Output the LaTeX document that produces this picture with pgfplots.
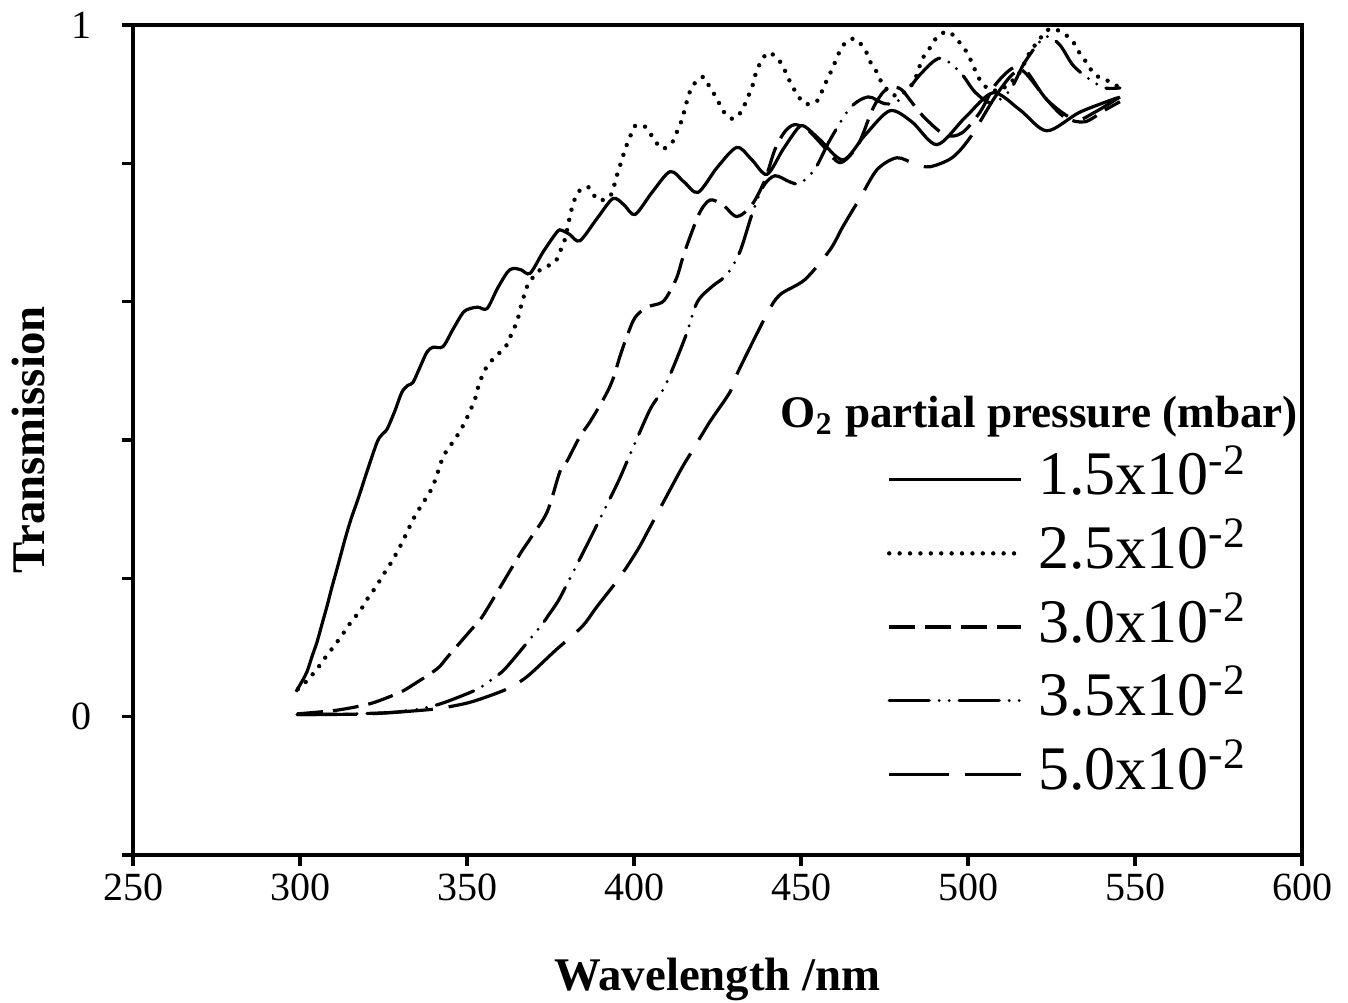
\documentclass[border=0pt]{standalone}
\usepackage{fontspec}
\setmainfont{Liberation Serif}
\usepackage{pgfplots}
\pgfplotsset{compat=1.18}
\begin{document}
\begin{tikzpicture}
\begin{axis}[
  name=ax,
  scale only axis, width=292.25pt, height=207.5pt,
  xmin=250, xmax=600, ymin=-0.2, ymax=1,
  xtick={250,300,...,600},
  ytick={-0.2,0,0.2,0.4,0.6,0.8,1},
  yticklabels={{},0,{},{},{},{},1},
  xtick pos=bottom, ytick pos=left,
  tick align=outside,
  major tick length=2.75pt,
  axis line style={line width=0.8pt},
  every tick/.style={black, line width=0.8pt},
  /pgf/number format/assume math mode=true,
  ticklabel style={font=\fontsize{10}{12}\selectfont},
  xticklabel style={yshift=1.5pt},
  yticklabel style={xshift=-4pt},
  xlabel={\textbf{Wavelength /nm}},
  ylabel={\textbf{Transmission}},
  xlabel style={font=\fontsize{11.7}{14}\selectfont, at={(axis description cs:0.5,-0.1627)}, anchor=base},
  ylabel style={font=\fontsize{11.7}{14}\selectfont, at={(axis description cs:-0.0753,0.5)}, anchor=base},
  clip=false,
  every axis plot/.append style={black, line width=0.8pt},
  legend style={at={(0.645,0.4964)}, anchor=north west, draw=none, fill=none,
    inner sep=0pt, outer sep=0pt, row sep=0pt, column sep=3.75pt,
    font=\fontsize{15.5}{18}\selectfont,
    nodes={inner sep=0pt, text height=13pt, text depth=5.4pt}},
  legend cell align=left,
  legend image code/.code={\draw[#1] (0pt,0pt) -- (33pt,0pt);},
]
% 1.5e-2 solid
\addplot[smooth, solid] coordinates {
(298.8,0.036)(300.6,0.051)(302.1,0.065)(303.6,0.087)(305.1,0.108)(306.6,0.134)(308.1,0.160)(309.6,0.188)(311.1,0.214)(313.5,0.257)(315.3,0.286)(317.4,0.315)(320.1,0.355)(323.1,0.397)(324.6,0.408)(326.1,0.416)(328.4,0.442)(330.5,0.469)(332.3,0.479)(333.8,0.483)(335.9,0.505)(338.0,0.527)(339.8,0.534)(342.8,0.535)(345.8,0.560)(348.8,0.584)(350.9,0.590)(353.3,0.592)(356.0,0.590)(359.0,0.618)(362.0,0.642)(363.8,0.648)(366.2,0.646)(368.9,0.641)(372.8,0.672)(377.0,0.701)(378.4,0.703)(380.8,0.697)(383.8,0.688)(388.9,0.720)(393.7,0.749)(397.0,0.740)(400.3,0.726)(405.4,0.758)(410.8,0.788)(415.0,0.773)(419.2,0.758)(424.9,0.794)(430.8,0.823)(435.3,0.805)(439.8,0.784)(444.6,0.820)(449.1,0.851)(451.2,0.853)(455.7,0.834)(462.6,0.805)(469.2,0.841)(476.6,0.876)(483.2,0.860)(490.7,0.827)(499.1,0.866)(507.5,0.902)(515.6,0.877)(523.6,0.847)(533.5,0.874)(544.9,0.895)
};
\addlegendentry{1.5x10\textsuperscript{-2}}
% 2.5e-2 dotted
\addplot[smooth, line width=1.1pt, line cap=round, dash pattern=on 0pt off 2.6pt] coordinates {
(299.4,0.040)(302.1,0.052)(305.1,0.069)(307.8,0.087)(310.2,0.102)(312.9,0.120)(315.3,0.137)(318.0,0.153)(320.4,0.172)(322.8,0.188)(324.9,0.205)(327.2,0.222)(329.3,0.240)(331.1,0.257)(334.4,0.290)(338.9,0.325)(340.4,0.341)(342.8,0.375)(344.9,0.391)(347.3,0.408)(349.4,0.426)(350.9,0.442)(352.4,0.459)(353.3,0.476)(354.5,0.492)(356.3,0.509)(359.3,0.524)(362.0,0.538)(363.5,0.556)(365.0,0.571)(365.9,0.589)(368.0,0.622)(370.4,0.639)(372.5,0.648)(376.3,0.657)(377.8,0.672)(379.3,0.690)(380.8,0.723)(381.7,0.740)(383.2,0.758)(386.2,0.766)(389.2,0.747)(392.8,0.752)(394.3,0.772)(395.2,0.788)(396.4,0.805)(397.3,0.820)(398.8,0.838)(400.3,0.854)(403.3,0.853)(405.7,0.837)(408.4,0.821)(411.4,0.830)(412.9,0.846)(414.4,0.864)(416.2,0.896)(417.7,0.913)(420.7,0.925)(422.8,0.909)(424.9,0.893)(426.6,0.876)(429.6,0.864)(432.3,0.876)(433.8,0.893)(435.3,0.909)(436.2,0.926)(437.7,0.944)(440.1,0.960)(443.1,0.951)(445.2,0.934)(446.7,0.918)(448.8,0.900)(451.2,0.886)(454.8,0.890)(456.6,0.908)(458.1,0.924)(459.6,0.939)(461.1,0.957)(463.2,0.974)(466.2,0.980)(469.2,0.964)(470.7,0.947)(472.8,0.931)(474.6,0.913)(478.1,0.898)(481.1,0.903)(483.5,0.916)(485.0,0.932)(486.2,0.950)(488.6,0.967)(491.0,0.984)(494.3,0.990)(497.6,0.974)(499.7,0.960)(501.5,0.942)(503.0,0.925)(505.7,0.909)(509.6,0.906)(515.0,0.928)(518.6,0.961)(524.0,0.993)(527.5,0.991)(531.1,0.978)(533.2,0.961)(535.6,0.945)(538.0,0.928)(542.5,0.918)(545.5,0.909)
};
\addlegendentry{2.5x10\textsuperscript{-2}}
% 3.0e-2 dashed
\addplot[smooth, dash pattern=on 6.5pt off 2.5pt] coordinates {
(299.1,0.004)(310.5,0.009)(318.6,0.016)(323.1,0.022)(329.9,0.035)(333.5,0.045)(341.0,0.069)(344.3,0.087)(351.5,0.127)(354.5,0.144)(359.3,0.182)(361.4,0.199)(366.5,0.240)(368.9,0.257)(374.0,0.296)(377.8,0.354)(379.9,0.369)(383.8,0.405)(386.8,0.426)(391.3,0.463)(393.7,0.488)(395.8,0.521)(397.9,0.550)(400.3,0.577)(403.9,0.592)(408.4,0.599)(410.8,0.615)(412.9,0.636)(414.7,0.665)(416.8,0.694)(419.8,0.730)(422.8,0.747)(426.6,0.740)(430.8,0.723)(435.3,0.740)(439.2,0.776)(442.2,0.820)(445.2,0.846)(448.2,0.856)(452.1,0.848)(456.3,0.827)(461.7,0.801)(467.1,0.827)(471.3,0.877)(474.6,0.903)(477.3,0.909)(480.2,0.906)(486.2,0.870)(493.1,0.841)(498.2,0.844)(503.6,0.874)(508.1,0.913)(513.5,0.938)(517.1,0.931)(523.6,0.892)(529.1,0.866)(535.0,0.860)(541.0,0.877)(545.5,0.889)
};
\addlegendentry{3.0x10\textsuperscript{-2}}
% 3.5e-2 dash dot dot
\addplot[smooth, line cap=round, dash pattern=on 10pt off 2.5pt on 0pt off 2.5pt on 0pt off 2.5pt] coordinates {
(299.1,0.003)(315.0,0.004)(329.9,0.007)(341.0,0.017)(352.4,0.038)(355.7,0.048)(359.0,0.059)(362.3,0.074)(371.9,0.130)(374.3,0.146)(376.6,0.162)(378.4,0.177)(386.2,0.251)(389.8,0.286)(395.2,0.339)(398.2,0.372)(404.8,0.444)(409.3,0.478)(415.3,0.548)(418.9,0.599)(423.4,0.622)(427.8,0.639)(431.7,0.672)(435.3,0.726)(438.6,0.766)(442.2,0.782)(446.7,0.773)(449.7,0.771)(454.2,0.792)(458.7,0.834)(464.7,0.880)(470.1,0.896)(475.2,0.886)(479.6,0.892)(485.6,0.928)(491.6,0.952)(497.6,0.932)(502.1,0.903)(507.2,0.887)(512.6,0.906)(517.1,0.947)(523.1,0.983)(527.5,0.971)(531.4,0.942)(536.5,0.921)(541.0,0.909)(545.5,0.909)
};
\addlegendentry{3.5x10\textsuperscript{-2}}
% 5.0e-2 long dash
\addplot[smooth, dash pattern=on 15pt off 4pt] coordinates {
(299.1,0.003)(320.4,0.004)(338.3,0.010)(344.3,0.014)(351.8,0.022)(362.0,0.040)(368.0,0.058)(376.3,0.095)(384.4,0.130)(388.9,0.159)(395.8,0.202)(401.2,0.242)(404.8,0.274)(413.8,0.355)(417.4,0.384)(422.8,0.427)(428.7,0.469)(431.1,0.498)(439.8,0.582)(443.7,0.610)(451.2,0.632)(458.7,0.675)(462.6,0.709)(467.7,0.750)(472.8,0.791)(478.7,0.808)(484.1,0.799)(488.6,0.795)(495.2,0.808)(500.6,0.837)(508.1,0.896)(513.2,0.928)(517.1,0.935)(523.6,0.892)(532.0,0.863)(538.0,0.874)(545.5,0.896)
};
\addlegendentry{5.0x10\textsuperscript{-2}}
\node[anchor=base west, inner sep=0pt, font=\fontsize{11.3}{13}\selectfont\bfseries] at (rel axis cs:0.5535,0.5145) {O\textsubscript{2} partial pressure (mbar)};
\end{axis}
\pgfresetboundingbox
\path ([shift={(-33.25pt,-37pt)}]ax.south west) rectangle ([shift={(11.5pt,6.25pt)}]ax.north east);
\end{tikzpicture}
\end{document}
